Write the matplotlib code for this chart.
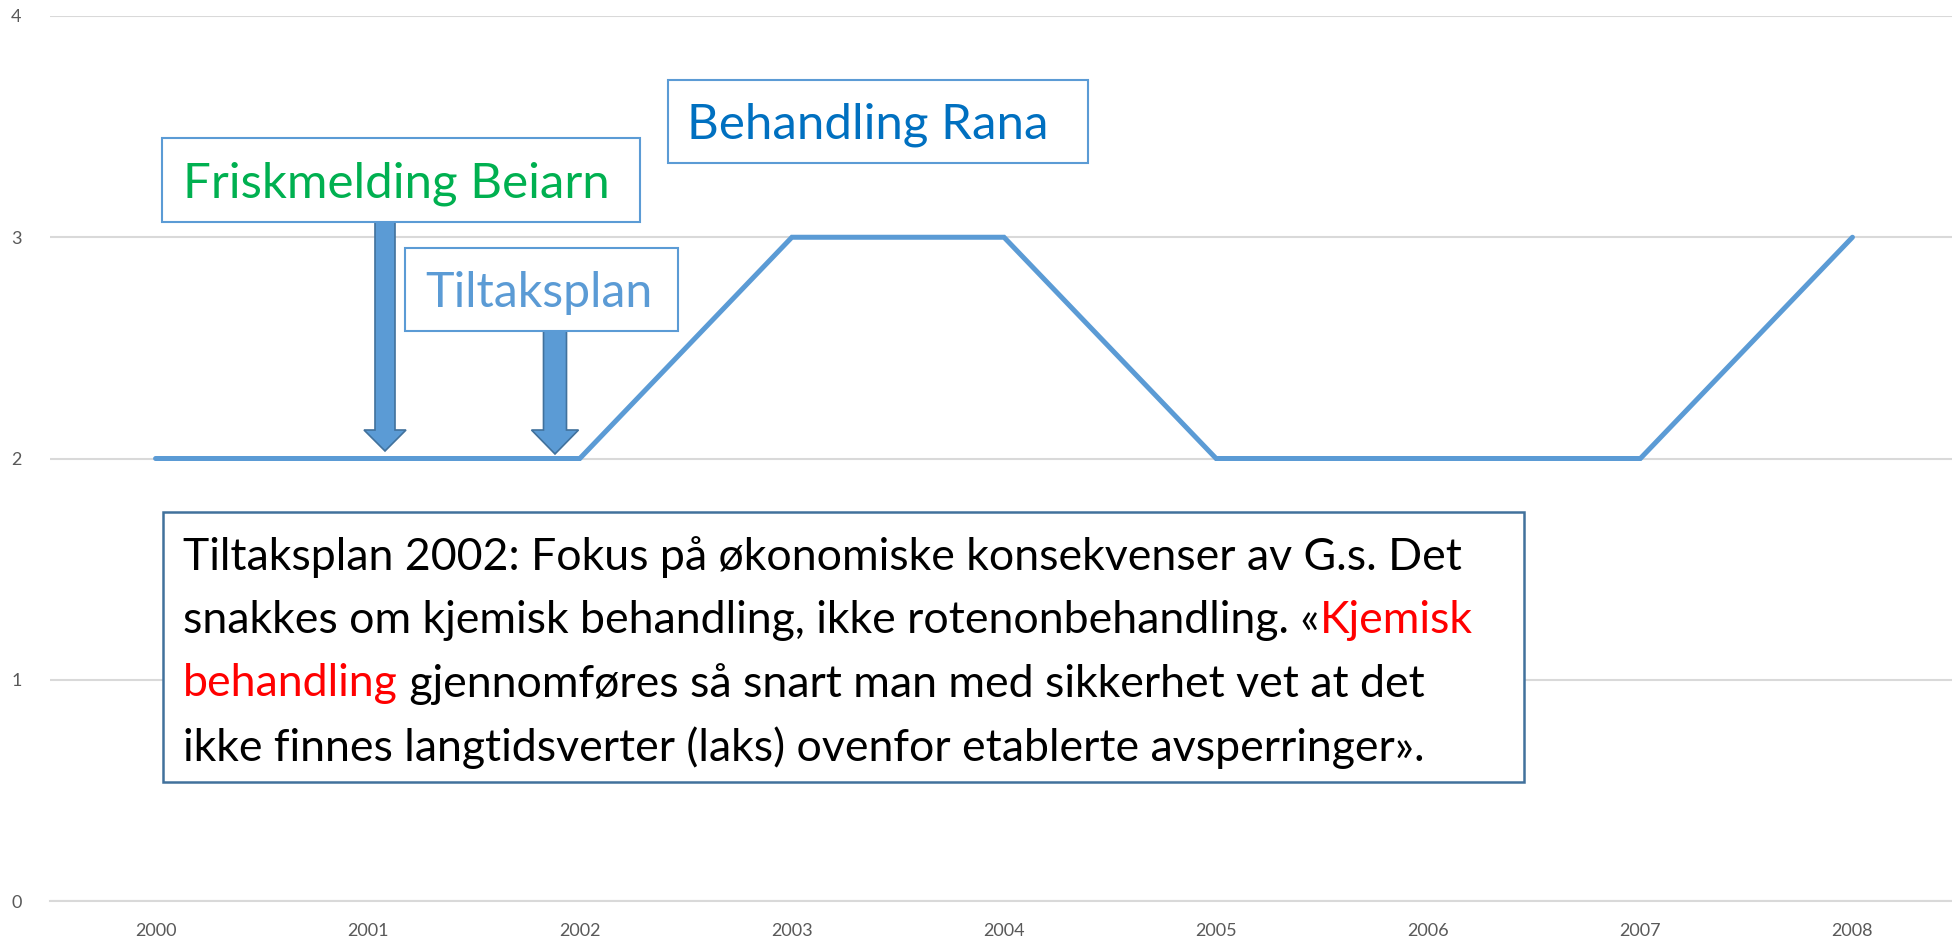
import matplotlib
matplotlib.use('Agg')
import matplotlib.pyplot as plt
from matplotlib.patches import Rectangle, Polygon

# data
years = ['2000', '2001', '2002', '2003', '2004', '2005', '2006', '2007', '2008']
values = [2, 2, 2, 3, 3, 2, 2, 2, 3]
yticks = [0, 1, 2, 3, 4]

label_rana = 'Behandling Rana'
label_beiarn = 'Friskmelding Beiarn'
label_plan = 'Tiltaksplan'
note_lines = [
    [('Tiltaksplan 2002: Fokus på økonomiske konsekvenser av G.s. Det', 'black')],
    [('snakkes om kjemisk behandling, ikke rotenonbehandling. «', 'black'), ('Kjemisk', 'red')],
    [('behandling', 'red'), (' gjennomføres så snart man med sikkerhet vet at det', 'black')],
    [('ikke finnes langtidsverter (laks) ovenfor etablerte avsperringer».', 'black')],
]

W, H = 1952, 944
FONT = ['Lato', 'DejaVu Sans']
LINE_BLUE = '#5B9BD5'
GRID = '#D9D9D9'

fig = plt.figure(figsize=(W / 100, H / 100), dpi=100)
renderer = fig.canvas.get_renderer()

# plot area (pixel positions)
left, right, bottom, top = 49.5, 1958.5, 901, 16
ax = fig.add_axes([left / W, 1 - bottom / H, (right - left) / W, (bottom - top) / H])
x = list(range(len(years)))
ax.plot(x, values, color=LINE_BLUE, linewidth=3.6, solid_capstyle='round',
        solid_joinstyle='miter', zorder=3)
ax.set_xlim(-0.5, len(years) - 0.5)
ax.set_ylim(0, 4)
ax.set_yticks(yticks)
ax.set_xticks(x)
ax.set_xticklabels(years)
ax.grid(axis='y', color=GRID, linewidth=1.5)
ax.set_axisbelow(True)
for s in ['top', 'right', 'left']:
    ax.spines[s].set_visible(False)
ax.spines['bottom'].set_color(GRID)
ax.spines['bottom'].set_linewidth(1.5)
ax.tick_params(length=0, labelcolor='#595959', labelsize=13)
ax.tick_params(axis='y', pad=20)
ax.tick_params(axis='x', pad=16)
for lab in ax.get_xticklabels() + ax.get_yticklabels():
    lab.set_family(FONT)


def fx(px):
    return px / W


def fy(py):
    return 1 - py / H


def fit_size(text, width_px):
    t = fig.text(0, 0, text, fontsize=10, family=FONT)
    w = t.get_window_extent(renderer).width
    t.remove()
    return 10 * width_px / w


def box(x0, y0, x1, y1, edge, lw=1.5):
    fig.patches.append(Rectangle((fx(x0), fy(y1)), fx(x1) - fx(x0), fy(y0) - fy(y1),
                                 transform=fig.transFigure, facecolor='white',
                                 edgecolor=edge, linewidth=lw, zorder=5))


def label(x0, yc, text, color, width_px):
    fig.text(fx(x0), fy(yc), text, color=color, family=FONT,
             fontsize=fit_size(text, width_px), va='center_baseline', ha='left', zorder=6)


def block_arrow(xc, ytop, yhead, ytip, shaft, head):
    pts = [(xc - shaft / 2, ytop), (xc + shaft / 2, ytop), (xc + shaft / 2, yhead),
           (xc + head / 2, yhead), (xc, ytip), (xc - head / 2, yhead),
           (xc - shaft / 2, yhead)]
    fig.patches.append(Polygon([(fx(a), fy(b)) for a, b in pts], closed=True,
                               transform=fig.transFigure, facecolor=LINE_BLUE,
                               edgecolor='#41719C', linewidth=1.2, zorder=4))


# arrows
block_arrow(385, 222, 430, 451, 20, 42)
block_arrow(555, 331, 430, 454, 23, 47)

# small labels
box(668, 80, 1088, 163, LINE_BLUE)
label(687, 121, label_rana, '#0070C0', 361)
box(162, 138, 640, 222, LINE_BLUE)
label(183, 180, label_beiarn, '#00B050', 427)
box(405, 248, 678, 331, LINE_BLUE)
label(425, 289, label_plan, LINE_BLUE, 228)

# big note
box(163, 512, 1524, 782, '#41719C', lw=1.8)
note_size = fit_size(note_lines[3][0][0], 1245)
for i, parts in enumerate(note_lines):
    xpos = 183
    ypos = 553 + i * 63.5
    for text, color in parts:
        t = fig.text(fx(xpos), fy(ypos), text, color=color, family=FONT,
                     fontsize=note_size, va='center_baseline', ha='left', zorder=6)
        xpos = t.get_window_extent(renderer).x1

fig.savefig('out.png', dpi=100)
